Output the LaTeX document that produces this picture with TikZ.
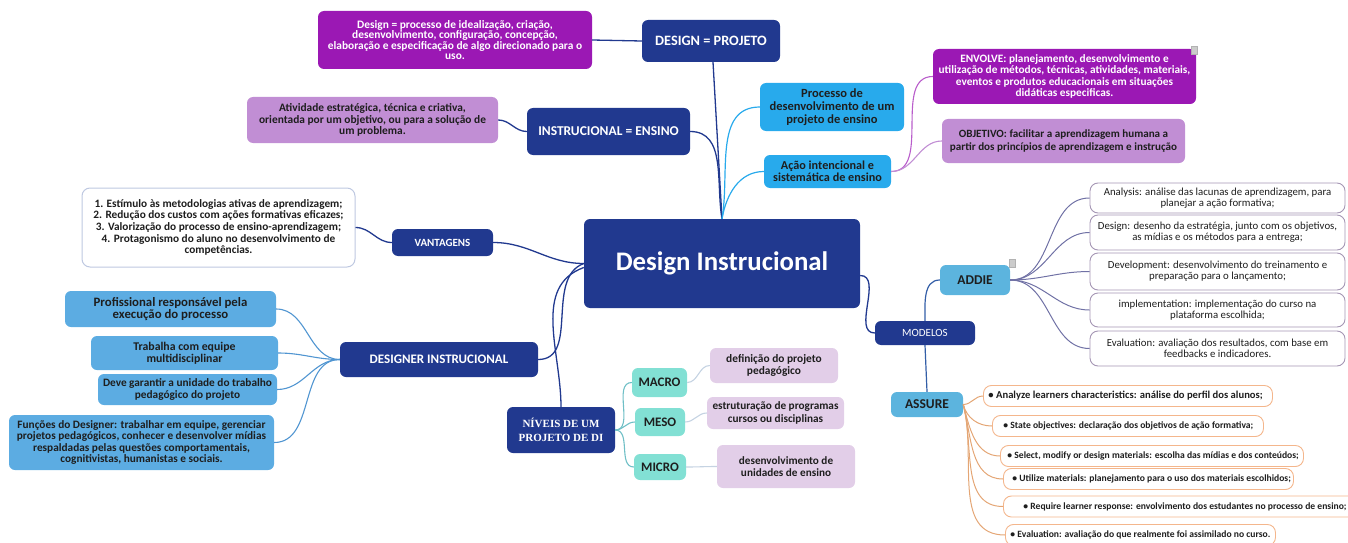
\documentclass[tikz,border=0pt]{standalone}
\usepackage{fontspec}
\setmainfont{Carlito}
\newfontfamily\nivelfont{Liberation Serif}
\usetikzlibrary{positioning}

\definecolor{dkblue}{RGB}{33,57,143}
\definecolor{vivpurple}{RGB}{155,24,180}
\definecolor{lilac}{RGB}{193,142,212}
\definecolor{skyblue}{RGB}{40,170,236}
\definecolor{midblue}{RGB}{92,172,226}
\definecolor{mint}{RGB}{130,224,212}
\definecolor{lavender}{RGB}{226,206,232}
\definecolor{modelblue}{RGB}{92,180,222}
\definecolor{addiegray}{RGB}{165,150,180}
\definecolor{peach}{RGB}{244,182,140}
\definecolor{inkgray}{RGB}{30,30,30}
\definecolor{listedge}{RGB}{190,200,225}

\newcommand{\setfs}[2]{\fontsize{#1}{#2}\selectfont}
\newcommand{\stepline}[2]{\makebox[#1][l]{#2}}

\begin{document}
\begin{tikzpicture}[
        x=1pt, y=1pt,
        box/.style={rounded corners=6pt, inner sep=0pt, align=center, text=inkgray},
        hub/.style={box, fill=dkblue, text=white, font=\bfseries\setfs{13.5}{15}},
        purplebox/.style={box, fill=vivpurple, text=white, font=\bfseries\setfs{11.4}{10.6}},
        lilacbox/.style={box, fill=lilac, font=\bfseries\setfs{11.4}{11.6}},
        skybox/.style={box, fill=skyblue, font=\bfseries\setfs{12.5}{13}},
        listbox/.style={box, fill=white, draw=listedge, line width=1pt, rounded corners=8pt, font=\bfseries\setfs{11.3}{11.7}},
        bluebox/.style={box, fill=midblue, font=\bfseries\setfs{11.3}{11.6}},
        mintbox/.style={box, fill=mint, font=\bfseries\setfs{13}{14}},
        lavbox/.style={box, fill=lavender, font=\bfseries\setfs{11.2}{11.6}},
        modelbox/.style={box, fill=modelblue, font=\bfseries\setfs{13.5}{15}},
        addiebox/.style={box, fill=white, draw=addiegray, line width=0.9pt, rounded corners=8pt, minimum width=255pt, font=\setfs{10.8}{11}},
        assurebox/.style={box, fill=white, draw=peach, line width=0.9pt, rounded corners=8pt, minimum height=21pt, anchor=west, font=\bfseries\setfs{9.6}{11}},
        note/.style={fill=gray!40, draw=gray!60, inner sep=0pt, minimum width=6pt, minimum height=8pt},
        trunk/.style={draw=dkblue, line width=1.3pt},
        skyline/.style={draw=skyblue, line width=1.2pt},
        purpleline/.style={draw=vivpurple!70, line width=1.1pt},
        lilacline/.style={draw=lilac, line width=1.1pt},
        blueline/.style={draw=midblue!80!dkblue, line width=1.1pt},
        mintline/.style={draw=mint!80!dkblue, line width=1.1pt},
        lavline/.style={draw=lavender!70!mint, line width=1.1pt},
        modelline/.style={draw=dkblue!70!modelblue, line width=1.2pt},
        addieline/.style={draw=addiegray!60!dkblue, line width=1pt},
        assureline/.style={draw=peach!70!brown, line width=1pt}
    ]
    \useasboundingbox (0,0) rectangle (1348,542);

    % central topic
    \node[hub, minimum width=276pt, minimum height=89pt, font=\bfseries\setfs{26.8}{30}] (di) at (722,278.5) {Design Instrucional};

    % upper branches
    \node[hub, minimum width=138pt, minimum height=42pt, font=\bfseries\setfs{14.3}{16}] (projeto) at (711,501) {DESIGN = PROJETO};
    \node[purplebox, minimum width=274pt, minimum height=58pt] (designdef) at (455,502) {Design = processo de idealização, criação,\\desenvolvimento, configuração, concepção,\\elaboração e especificação de algo direcionado para o\\uso.};
    \node[hub, minimum width=163pt, minimum height=47pt] (ensino) at (608.5,410.5) {INSTRUCIONAL = ENSINO};
    \node[lilacbox, minimum width=251pt, minimum height=46pt] (atividade) at (372.5,422) {Atividade estratégica, técnica e criativa,\\orientada por um objetivo, ou para a solução de\\um problema.};
    \node[skybox, minimum width=144pt, minimum height=48pt] (processo) at (832,435) {Processo de\\desenvolvimento de um\\projeto de ensino};
    \node[skybox, minimum width=127pt, minimum height=33pt, font=\bfseries\setfs{12.2}{11.5}] (acao) at (827.5,370.5) {Ação intencional e\\sistemática de ensino};
    \node[purplebox, minimum width=263pt, minimum height=55pt, font=\bfseries\setfs{11.3}{11.4}] (envolve) at (1064.5,465.5) {ENVOLVE: planejamento, desenvolvimento e\\utilização de métodos, técnicas, atividades, materiais,\\eventos e produtos educacionais em situações\\didáticas especificas.};
    \node[note] (envnote) at ([xshift=-2pt,yshift=-1pt]envolve.north east) {};
    \node[lilacbox, minimum width=243pt, minimum height=44pt, font=\bfseries\setfs{11.1}{12.3}] (objetivo) at (1063.5,401) {OBJETIVO: facilitar a aprendizagem humana a\\partir dos princípios de aprendizagem e instrução};

    % left branches
    \node[hub, minimum width=101pt, minimum height=27pt, font=\bfseries\setfs{11}{12}] (vantagens) at (442.5,299.5) {VANTAGENS};
    \node[listbox, minimum width=273pt, minimum height=79pt] (vlist) at (218.5,314.5) {1. Estímulo às metodologias ativas de aprendizagem;\\2. Redução dos custos com ações formativas eficazes;\\3. Valorização do processo de ensino-aprendizagem;\\4. Protagonismo do aluno no desenvolvimento de\\competências.};
    \node[hub, minimum width=198pt, minimum height=35pt, font=\bfseries\setfs{13}{14}] (designer) at (439,182.5) {DESIGNER INSTRUCIONAL};
    \node[bluebox, minimum width=211pt, minimum height=36pt, font=\bfseries\setfs{12.8}{12.7}] (prof) at (170.5,233) {Profissional responsável pela\\execução do processo};
    \node[bluebox, minimum width=187pt, minimum height=34pt, font=\bfseries\setfs{11.8}{12.3}] (equipe) at (184.5,189) {Trabalha com equipe\\multidisciplinar};
    \node[bluebox, minimum width=179pt, minimum height=31pt] (unidade) at (187.5,152.5) {Deve garantir a unidade do trabalho\\pedagógico do projeto};
    \node[bluebox, minimum width=265pt, minimum height=55pt, font=\bfseries\setfs{11.3}{11.1}] (funcoes) at (141.5,99.5) {Funções do Designer: trabalhar em equipe, gerenciar\\projetos pedagógicos, conhecer e desenvolver mídias\\respaldadas pelas questões comportamentais,\\cognitivistas, humanistas e sociais.};

    % levels
    \node[hub, minimum width=108pt, minimum height=46pt, font=\nivelfont\bfseries\setfs{11}{14}] (niveis) at (561,112) {NÍVEIS DE UM\\PROJETO DE DI};
    \node[mintbox, minimum width=55pt, minimum height=29pt] (macro) at (659.5,159.5) {MACRO};
    \node[mintbox, minimum width=50pt, minimum height=28pt] (meso) at (660,120) {MESO};
    \node[mintbox, minimum width=52pt, minimum height=26pt] (micro) at (660,75) {MICRO};
    \node[lavbox, minimum width=128pt, minimum height=35pt, font=\bfseries\setfs{11.4}{11.3}] (defin) at (774,176.5) {definição do projeto\\pedagógico};
    \node[lavbox, minimum width=137pt, minimum height=32pt, font=\bfseries\setfs{11.25}{12.3}] (estrut) at (775.5,129) {estruturação de programas\\cursos ou disciplinas};
    \node[lavbox, minimum width=138pt, minimum height=43pt] (desenv) at (786,75.5) {desenvolvimento de\\unidades de ensino};

    % models
    \node[hub, minimum width=100pt, minimum height=24pt, font=\setfs{11}{12}] (modelos) at (925,209) {MODELOS};
    \node[modelbox, minimum width=70pt, minimum height=30pt] (addie) at (975,262) {ADDIE};
    \node[note] (addienote) at ([xshift=2pt,yshift=2pt]addie.north east) {};
    \node[modelbox, minimum width=72pt, minimum height=25pt] (assure) at (927,137.5) {ASSURE};

    \node[addiebox, minimum height=30pt] (analysis) at (1217.5,344) {Analysis: análise das lacunas de aprendizagem, para\\planejar a ação formativa;};
    \node[addiebox, minimum height=35pt] (design) at (1217.5,309.5) {Design: desenho da estratégia, junto com os objetivos,\\as mídias e os métodos para a entrega;};
    \node[addiebox, minimum height=37pt] (devel) at (1217.5,270.5) {Development: desenvolvimento do treinamento e\\preparação para o lançamento;};
    \node[addiebox, minimum height=34pt] (implem) at (1217.5,232) {implementation: implementação do curso na\\plataforma escolhida;};
    \node[addiebox, minimum height=35pt] (evalu) at (1217.5,193.5) {Evaluation: avaliação dos resultados, com base em\\feedbacks e indicadores.};

    \node[assurebox, inner xsep=5pt, font=\bfseries\setfs{10.6}{11}] (a1) at (983,146) {\stepline{279pt}{• Analyze learners characteristics: análise do perfil dos alunos;}};
    \node[assurebox, inner xsep=11pt] (a2) at (992,116) {\stepline{249pt}{• State objectives: declaração dos objetivos de ação formativa;}};
    \node[assurebox, inner xsep=7pt] (a3) at (1000,86) {\stepline{289pt}{• Select, modify or design materials: escolha das mídias e dos conteúdos;}};
    \node[assurebox, inner xsep=9pt] (a4) at (1003,63) {\stepline{272pt}{• Utilize materials: planejamento para o uso dos materiais escolhidos;}};
    \node[assurebox, inner xsep=20pt] (a5) at (1003,35.5) {\stepline{330pt}{• Require learner response: envolvimento dos estudantes no processo de ensino;}};
    \node[assurebox, inner xsep=5pt] (a6) at (1005,7) {\stepline{260pt}{• Evaluation: avaliação do que realmente foi assimilado no curso.}};

    % connectors
    \draw[trunk] (di.north) -- ([xshift=2pt]projeto.south);
    \draw[trunk] (projeto.west) -- (designdef.east);
    \draw[trunk] (di.north) to[out=100,in=0] (ensino.east);
    \draw[trunk] (ensino.west) to[out=180,in=0] (atividade.east);
    \draw[skyline] (di.north) to[out=80,in=180] (processo.west);
    \draw[skyline] (di.north) to[out=80,in=180] (acao.west);
    \draw[purpleline] (acao.east) to[out=0,in=180] (envolve.west);
    \draw[lilacline] (acao.east) to[out=0,in=180] (objetivo.west);

    \draw[trunk] (di.west) to[out=180,in=0] (vantagens.east);
    \draw[trunk] (vantagens.west) to[out=180,in=0] (vlist.east);
    \draw[trunk] (di.west) to[out=200,in=0] (designer.east);
    \draw[trunk] ([yshift=-4pt]di.west) to[out=200,in=90] (niveis.north);
    \foreach \n in {prof,equipe,unidade,funcoes}
        \draw[blueline] (designer.west) to[out=180,in=0] (\n.east);
    \foreach \n in {macro,meso,micro}
        \draw[mintline] (niveis.east) to[out=0,in=180] (\n.west);
    \draw[lavline] (macro.east) to[out=0,in=180] (defin.west);
    \draw[lavline] (meso.east) to[out=0,in=180] (estrut.west);
    \draw[lavline] (micro.east) to[out=0,in=180] (desenv.west);

    \draw[trunk] ([yshift=-12pt]di.east) to[out=0,in=180] (modelos.west);
    \draw[modelline] (modelos.north) to[out=90,in=180] (addie.west);
    \draw[modelline] (modelos.south) -- (assure.north);
    \foreach \n in {analysis,design,devel,implem,evalu}
        \draw[addieline] (addie.east) to[out=0,in=180] (\n.west);
    \draw[assureline] (assure.east) to[out=0,in=180] (a1.west);
    \foreach \n in {a2,a3,a4,a5,a6}
        \draw[assureline] (assure.east) to[out=-75,in=180] (\n.west);

\end{tikzpicture}
\end{document}
